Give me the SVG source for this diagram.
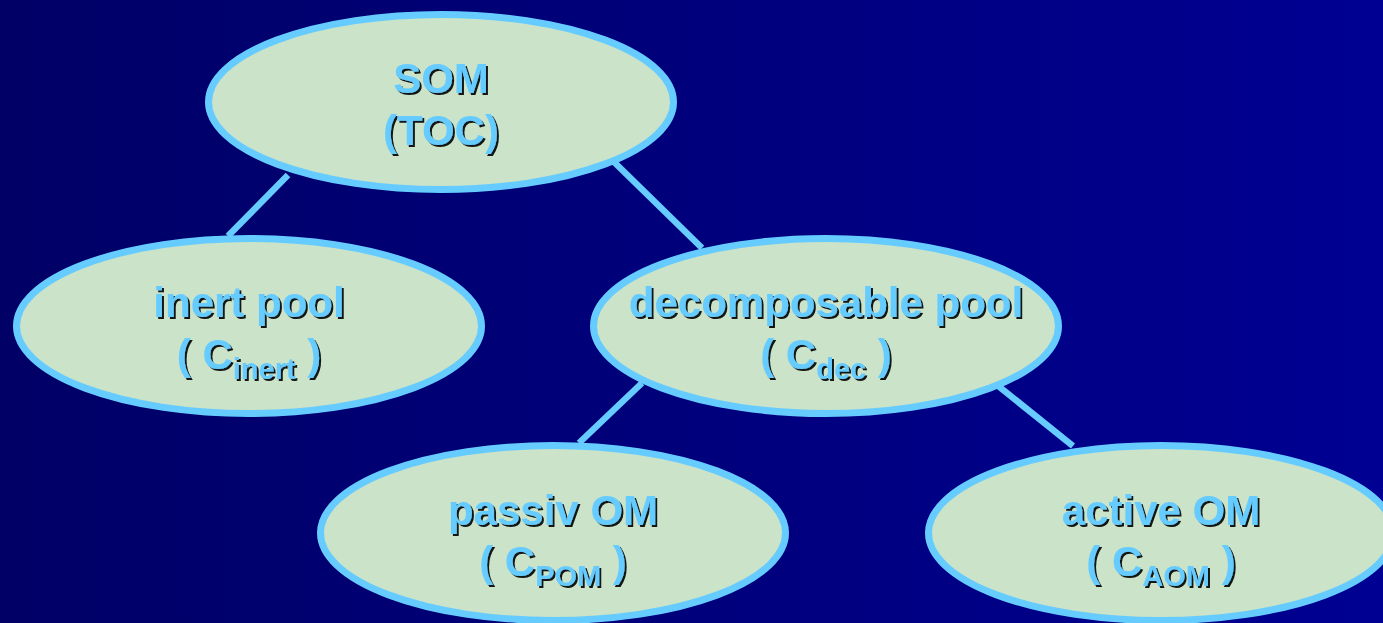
<svg xmlns="http://www.w3.org/2000/svg" width="1383" height="623" viewBox="0 0 1383 623">
<defs>
<linearGradient id="bg" x1="0" y1="0" x2="1" y2="0">
<stop offset="0" stop-color="#000066"/>
<stop offset="1" stop-color="#000092"/>
</linearGradient>
<filter id="sh" x="-10%" y="-20%" width="120%" height="140%">
<feDropShadow dx="2" dy="2" stdDeviation="0.4" flood-color="#000000" flood-opacity="0.9"/>
</filter>
</defs>
<style>
.node ellipse{fill:#cbe3c9;stroke:#66ccff;stroke-width:7}
.node text{font-family:"Liberation Sans",Arial,sans-serif;font-weight:bold;font-size:42px;fill:#66ccff;text-anchor:middle;filter:url(#sh)}
.sub{font-size:29px}
#connectors line{stroke:#66ccff;stroke-width:6.5;stroke-linecap:butt}
</style>
<rect width="1383" height="623" fill="url(#bg)"/>
<g id="connectors">
<line x1="288" y1="175" x2="228" y2="236"/>
<line x1="613" y1="161" x2="702" y2="248"/>
<line x1="642" y1="383" x2="579" y2="443"/>
<line x1="997" y1="385" x2="1073" y2="446"/>
</g>
<g id="som" class="node">
<ellipse cx="441" cy="102" rx="232.5" ry="87.5"/>
<text x="441" y="93">SOM</text>
<text x="441" y="145">(TOC)</text>
</g>
<g id="inert" class="node">
<ellipse cx="249" cy="326" rx="232.5" ry="87.5"/>
<text x="249" y="317">inert pool</text>
<text x="249" y="369">( C<tspan class="sub" dy="10">inert</tspan><tspan dy="-10"> )</tspan></text>
</g>
<g id="dec" class="node">
<ellipse cx="826" cy="326" rx="232.5" ry="87.5"/>
<text x="826" y="317">decomposable pool</text>
<text x="826" y="369">( C<tspan class="sub" dy="10">dec</tspan><tspan dy="-10"> )</tspan></text>
</g>
<g id="pom" class="node">
<ellipse cx="553" cy="533" rx="232.5" ry="87.5"/>
<text x="553" y="525">passiv OM</text>
<text x="553" y="576">( C<tspan class="sub" dy="10">POM</tspan><tspan dy="-10"> )</tspan></text>
</g>
<g id="aom" class="node">
<ellipse cx="1161" cy="533" rx="232.5" ry="87.5"/>
<text x="1161" y="525">active OM</text>
<text x="1161" y="576">( C<tspan class="sub" dy="10">AOM</tspan><tspan dy="-10"> )</tspan></text>
</g>
</svg>
